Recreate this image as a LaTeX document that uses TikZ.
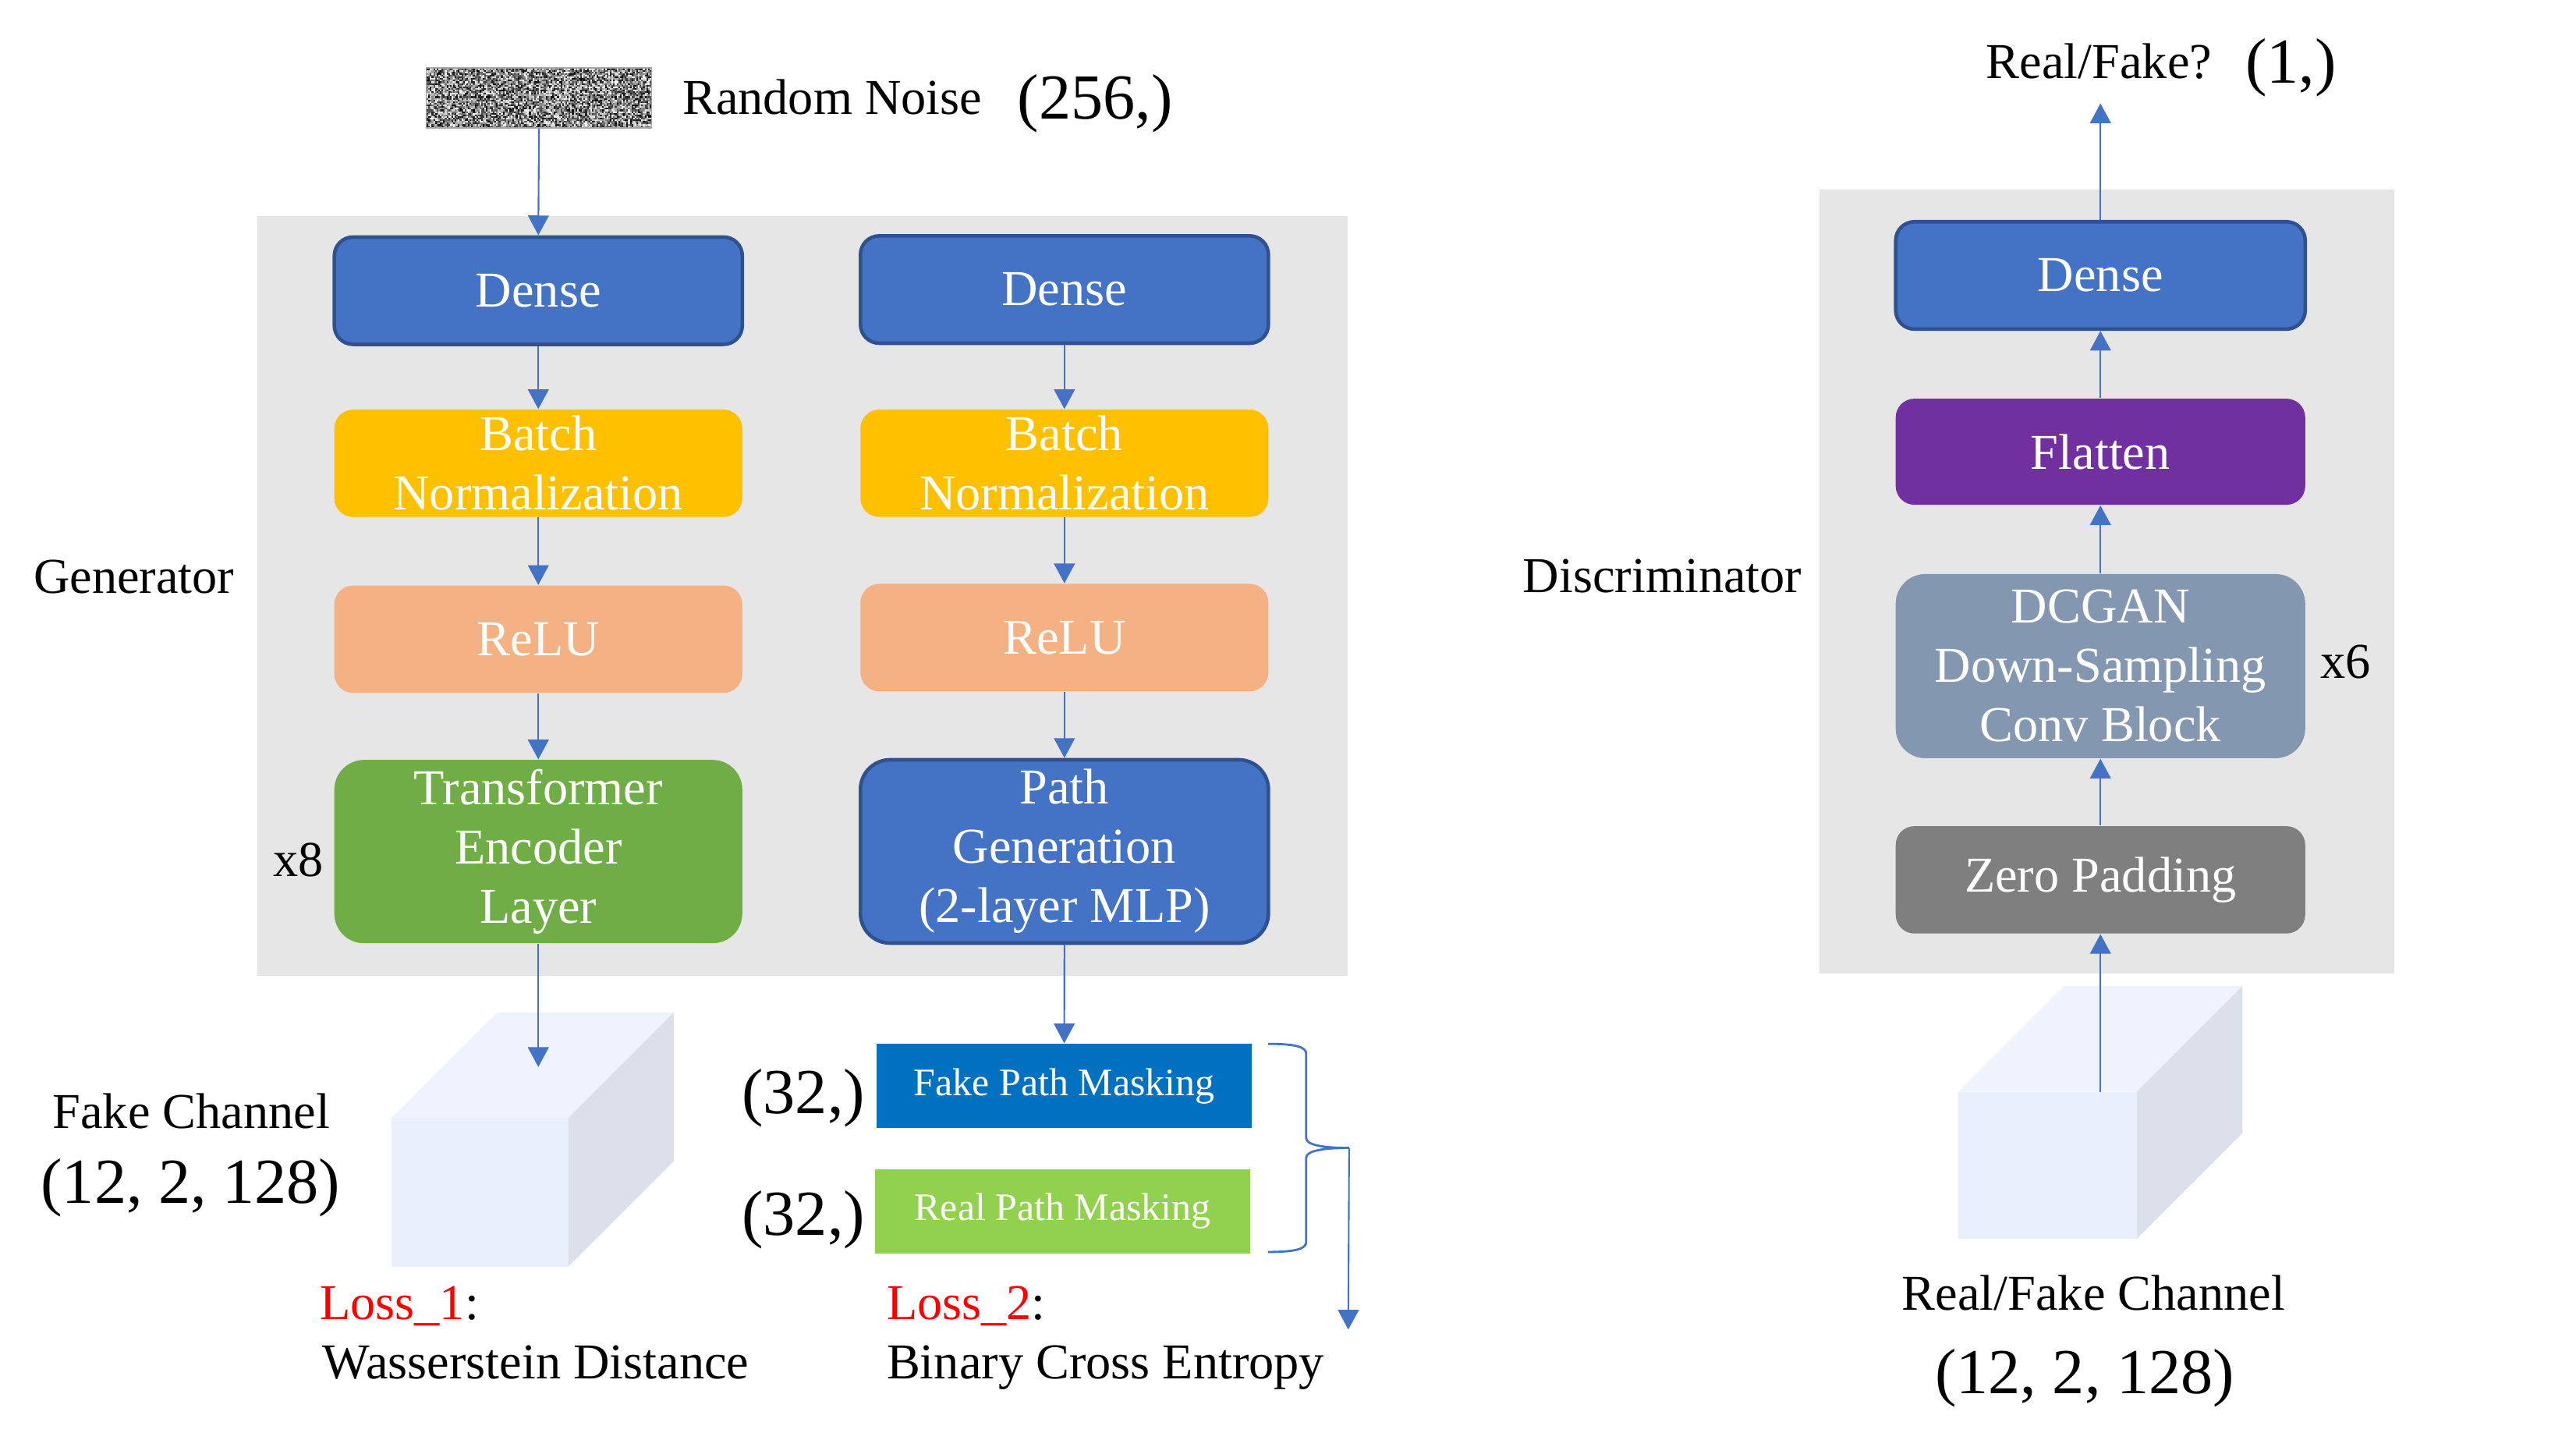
\documentclass[tikz,border=0pt]{standalone}
\usepackage{fontspec}
\setmainfont{Liberation Serif}
\usetikzlibrary{arrows.meta}
\definecolor{panelgray}{HTML}{E7E6E6}
\definecolor{denseblue}{HTML}{4472C4}
\definecolor{dkblue}{HTML}{2F528F}
\definecolor{arrowblue}{HTML}{4472C4}
\definecolor{bnyellow}{HTML}{FFC000}
\definecolor{relusalmon}{HTML}{F4B183}
\definecolor{transgreen}{HTML}{70AD47}
\definecolor{fakeblue}{HTML}{0070C0}
\definecolor{realgreen}{HTML}{92D050}
\definecolor{flatpurple}{HTML}{7030A0}
\definecolor{dcganblue}{HTML}{8497B0}
\definecolor{zerogray}{HTML}{7F7F7F}
\definecolor{cubefront}{HTML}{EAF0FB}
\definecolor{cubetop}{HTML}{EFF3FD}
\definecolor{cubeside}{HTML}{DCE0EA}
\begin{document}
\begin{tikzpicture}[x=0.2117mm,y=-0.2117mm,
  box/.style={rectangle, rounded corners=2.4mm, minimum width=52.3mm, minimum height=13.76mm,
    inner sep=0pt, text=white, align=center, font=\fontsize{18.3}{21.6}\selectfont},
  tallbox/.style={box, rounded corners=3.8mm, minimum height=23.5mm},
  bordered/.style={draw=dkblue, line width=1.3pt},
  maskbox/.style={rectangle, minimum width=48.06mm, minimum height=10.8mm, inner sep=0pt,
    text=white, font=\fontsize{14.2}{17}\selectfont},
  flow/.style={draw=arrowblue, line width=0.6pt, -{Triangle[width=7.6pt,length=7.2pt]}},
  lbl/.style={inner sep=0pt, anchor=base west, font=\fontsize{18.3}{21.6}\selectfont},
  biglbl/.style={inner sep=0pt, anchor=base west, font=\fontsize{23.4}{28}\selectfont},
  panel/.style={fill=panelgray, draw=none}
]
\useasboundingbox (0,0) rectangle (1560,871.4);

% panels
\fill[panel] (155.8,130.7) rectangle (816,591);
\fill[panel] (1101.8,115) rectangle (1449.7,589.5);

% noise
\pgfmathsetseed{7}
\foreach \i in {0,...,135}{
  \foreach \j in {0,...,35}{
    \pgfmathsetmacro\g{int(rnd*100)}
    \fill[black!\g] (258.4+\i,41.3+\j) rectangle ++(1.05,1.05);
  }
}
\node[draw=gray!70, line width=0.4pt, minimum width=28.9mm, minimum height=7.7mm, inner sep=0pt] (noise) at (326.4,59.3) {};
\node[lbl] (noiselbl) at (413,69) {Random Noise};
\node[biglbl] (noisedim) at (616,72) {(256,)};

% generator left column
\node[box, bordered, fill=denseblue] (gd1) at (326,176) {Dense};
\node[box, fill=bnyellow] (gbn1) at (326,280.5) {Batch\\Normalization};
\node[box, fill=relusalmon] (grelu1) at (326,387) {ReLU};
\node[tallbox, fill=transgreen] (gtrans) at (326,515.6) {Transformer\\Encoder\\Layer};

% generator right column
\node[box, bordered, fill=denseblue] (gd2) at (644.6,175.3) {Dense};
\node[box, fill=bnyellow] (gbn2) at (644.6,280.5) {Batch\\Normalization};
\node[box, fill=relusalmon] (grelu2) at (644.6,386) {ReLU};
\node[tallbox, bordered, fill=denseblue] (gpath) at (644.6,515.5) {Path\\Generation\\(2-layer MLP)};

\node[lbl] (genlbl) at (20,359) {Generator};
\node[lbl] (x8) at (165,530.6) {x8};

\draw[flow] (noise.south) -- (gd1.north);
\draw[flow] (gd1) -- (gbn1);
\draw[flow] (gbn1) -- (grelu1);
\draw[flow] (grelu1) -- (gtrans);
\draw[flow] (gd2) -- (gbn2);
\draw[flow] (gbn2) -- (grelu2);
\draw[flow] (grelu2) -- (gpath);

% fake channel cube
\fill[cubefront] (237,677) rectangle (344,767);
\fill[cubetop] (237,677) -- (301,613) -- (408,613) -- (344,677) -- cycle;
\fill[cubeside] (344,677) -- (408,613) -- (408,703) -- (344,767) -- cycle;
\coordinate (cubeL) at (326,646);
\draw[flow] (gtrans.south) -- (cubeL);
\node[lbl] (fakechan) at (31.6,683) {Fake Channel};
\node[biglbl] (fakedim) at (24.5,728.5) {(12, 2, 128)};

% masking
\node[maskbox, fill=fakeblue] (fake) at (644.5,657.5) {Fake Path Masking};
\node[maskbox, fill=realgreen] (real) at (643.5,733.3) {Real Path Masking};
\draw[flow] (gpath.south) -- (fake.north);
\node[biglbl] (d32a) at (449,674) {(32,)};
\node[biglbl] (d32b) at (449,748) {(32,)};

% brace
\draw[arrowblue, line width=0.8pt] (768,632) .. controls (785,632) and (791,634) .. (791,638)
  -- (791,689) .. controls (791,693) and (800,695) .. (817,695)
  .. controls (800,695) and (791,697) .. (791,701)
  -- (791,752) .. controls (791,756) and (785,758) .. (768,758);
\coordinate (btip) at (817,695);
\coordinate (bend) at (816.5,805);
\draw[flow] (btip) -- (bend);

% losses
\node[lbl] (loss1) at (193.4,799) {\textcolor{red}{Loss\_1}:};
\node[lbl] (loss1t) at (195,835) {Wasserstein Distance};
\node[lbl] (loss2) at (536.7,799) {\textcolor{red}{Loss\_2}:};
\node[lbl] (loss2t) at (536.7,835) {Binary Cross Entropy};

% discriminator
\node[box, bordered, fill=denseblue, minimum width=52.5mm] (dd) at (1272,166.75) {Dense};
\node[box, fill=flatpurple, minimum width=52.5mm, minimum height=13.6mm] (dflat) at (1272,273.5) {Flatten};
\node[tallbox, fill=dcganblue, minimum width=52.5mm, minimum height=23.6mm] (ddcgan) at (1272,403.3) {DCGAN\\Down-Sampling\\Conv Block};
\node[box, fill=zerogray, minimum width=52.5mm] (dzero) at (1272,532.7) {Zero Padding};

\node[lbl] (disclbl) at (922,358.6) {Discriminator};
\node[lbl] (x6) at (1405,410.6) {x6};

\draw[flow] (dzero) -- (ddcgan);
\draw[flow] (ddcgan) -- (dflat);
\draw[flow] (dflat) -- (dd);
\coordinate (dout) at (1272,62.6);
\draw[flow] (dd.north) -- (dout);
\node[lbl] (rf) at (1202.5,47.5) {Real/Fake?};
\node[biglbl] (rfdim) at (1359.6,50.5) {(1,)};

% real/fake cube
\fill[cubefront] (1186,661) rectangle (1294,750);
\fill[cubetop] (1186,661) -- (1250,597) -- (1358,597) -- (1294,661) -- cycle;
\fill[cubeside] (1294,661) -- (1358,597) -- (1358,686) -- (1294,750) -- cycle;
\coordinate (cubeR) at (1272,661);
\draw[flow] (cubeR) -- (dzero.south);
\node[lbl] (rfchan) at (1151.5,793) {Real/Fake Channel};
\node[biglbl] (rfchdim) at (1171.5,843.6) {(12, 2, 128)};
\end{tikzpicture}
\end{document}
